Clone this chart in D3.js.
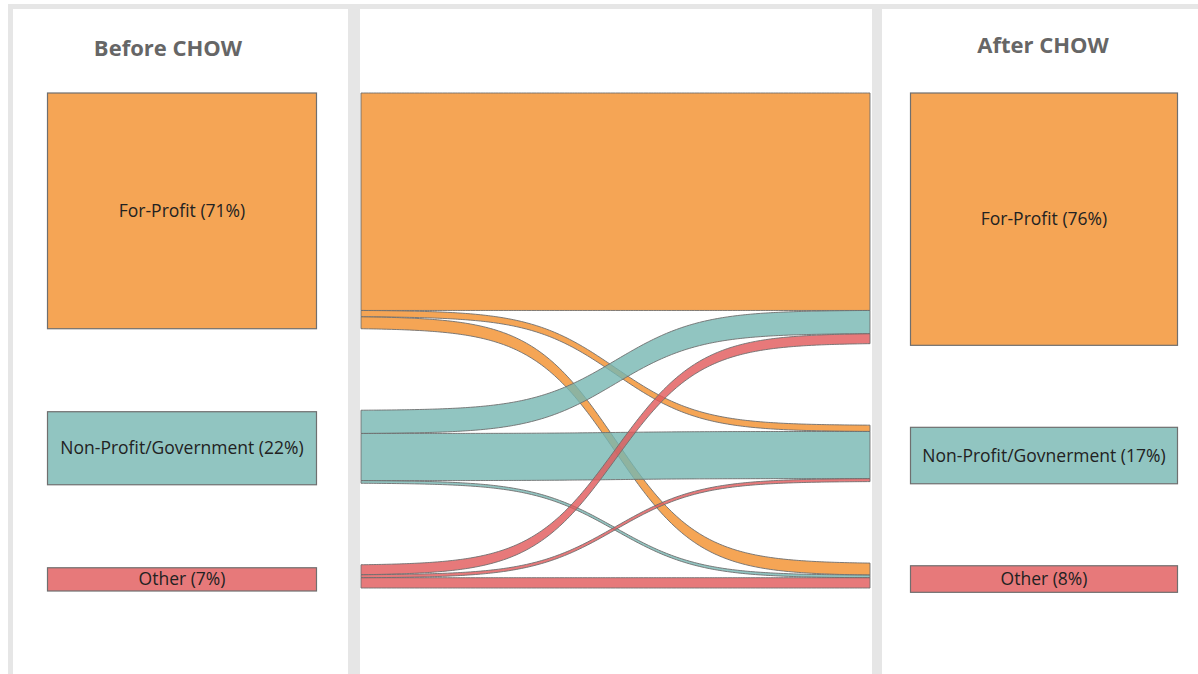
<!DOCTYPE html>
<html><head><meta charset="utf-8">
<script src="https://cdn.jsdelivr.net/npm/d3@7"></script>
<style>html,body{margin:0;padding:0;background:#fff;}svg{display:block;}</style>
</head><body>
<svg id="chart" width="1198" height="674"></svg>
<script>
// ---- data ----
const categories = ["For-Profit", "Non-Profit/Government", "Other"];
const beforeLabels = ["For-Profit (71%)", "Non-Profit/Government (22%)", "Other (7%)"];
const afterLabels = ["For-Profit (76%)", "Non-Profit/Govnerment (17%)", "Other (8%)"];
const beforeShares = [71, 22, 7];
const afterShares = [76, 17, 8];
// flows (% of facilities) from before-category (source) to after-category (target)
const flowSource = ["For-Profit","For-Profit","For-Profit","Non-Profit/Government","Non-Profit/Government","Non-Profit/Government","Other","Other","Other"];
const flowTarget = ["For-Profit","Non-Profit/Government","Other","For-Profit","Non-Profit/Government","Other","For-Profit","Non-Profit/Government","Other"];
const flowValue  = [65.5, 1.9, 3.6, 7.0, 14.2, 0.8, 3.0, 0.9, 3.1];
const titles = ["Before CHOW", "After CHOW"];

const colors = d3.scaleOrdinal().domain(categories).range(["#F28E2B", "#76B7B2", "#E15759"]);
const svg = d3.select("#chart");

// ---- background panels ----
svg.append("rect").attr("x", 8).attr("y", 4).attr("width", 1190).attr("height", 670).attr("fill", "#e6e6e6");
const panels = [[13, 348], [360, 872], [882, 1198]];
svg.selectAll("rect.panel").data(panels).join("rect").attr("class", "panel")
  .attr("x", d => d[0]).attr("y", 9).attr("width", d => d[1] - d[0]).attr("height", 665).attr("fill", "#fff");

// ---- vertical scale (percent -> pixels) ----
const yTop = 93;
const k = d3.scaleLinear().domain([0, 100]).range([0, 332]);

function stack(values, gap) {
  let y = yTop;
  return values.map(v => { const o = {y0: y, y1: y + k(v)}; y = o.y1 + gap; return o; });
}

// ---- side panels ----
function sidePanel(shares, labels, x0, x1, gap, title, tx, ty) {
  const g = svg.append("g");
  const pos = stack(shares, gap);
  g.selectAll("rect").data(categories).join("rect")
    .attr("x", x0).attr("width", x1 - x0)
    .attr("y", (d, i) => pos[i].y0).attr("height", (d, i) => pos[i].y1 - pos[i].y0)
    .attr("fill", d => colors(d)).attr("fill-opacity", 0.8)
    .attr("stroke", "#6f6f6f").attr("stroke-width", 1.2);
  g.selectAll("text.lbl").data(labels).join("text").attr("class", "lbl")
    .attr("x", (x0 + x1) / 2).attr("y", (d, i) => (pos[i].y0 + pos[i].y1) / 2 - 1)
    .attr("text-anchor", "middle").attr("dominant-baseline", "central")
    .attr("font-family", "'Open Sans', sans-serif").attr("font-size", 17.5).attr("fill", "#222")
    .text(d => d);
  g.append("text").attr("x", tx).attr("y", ty).attr("text-anchor", "middle")
    .attr("font-family", "'Open Sans', sans-serif").attr("font-weight", "bold").attr("font-size", 22)
    .attr("fill", "#666").text(title);
}
sidePanel(beforeShares, beforeLabels, 47.5, 316.5, 83, titles[0], 168, 56);
sidePanel(afterShares, afterLabels, 910.5, 1177.5, 82, titles[1], 1043, 53);

// ---- middle: flows ----
const mx0 = 361, mx1 = 870, mgap = 81.5;
const links = flowValue.map((v, i) => ({source: flowSource[i], target: flowTarget[i], value: v}));
const srcTot = categories.map(c => d3.sum(links.filter(l => l.source === c), l => l.value));
const tgtTot = categories.map(c => d3.sum(links.filter(l => l.target === c), l => l.value));
const srcPos = stack(srcTot, mgap), tgtPos = stack(tgtTot, mgap);
// position links within nodes: source side ordered by target, target side ordered by source
const srcOff = srcPos.map(p => p.y0), tgtOff = tgtPos.map(p => p.y0);
links.forEach(l => {
  const si = categories.indexOf(l.source), ti = categories.indexOf(l.target);
  l.sy = srcOff[si]; srcOff[si] += k(l.value);
  l.ty = tgtOff[ti]; tgtOff[ti] += k(l.value);
  l.h = k(l.value);
});
const L = z => 1 / (1 + Math.exp(-z));
const sig = t => (L(12 * t - 6) - L(-6)) / (L(6) - L(-6));
const xs = d3.range(0, 201).map(i => i / 200);
const area = d3.area().x(d => d.x).y0(d => d.y).y1(d => d.y + d.h).curve(d3.curveLinear);
svg.append("g").selectAll("path").data(links).join("path")
  .attr("d", l => area(xs.map(t => ({x: mx0 + t * (mx1 - mx0), y: l.sy + (l.ty - l.sy) * sig(t), h: l.h}))))
  .attr("fill", l => colors(l.source)).attr("fill-opacity", 0.8)
  .attr("stroke", "#6f6f6f").attr("stroke-width", 1).attr("stroke-opacity", 0.9);
</script>
</body></html>
